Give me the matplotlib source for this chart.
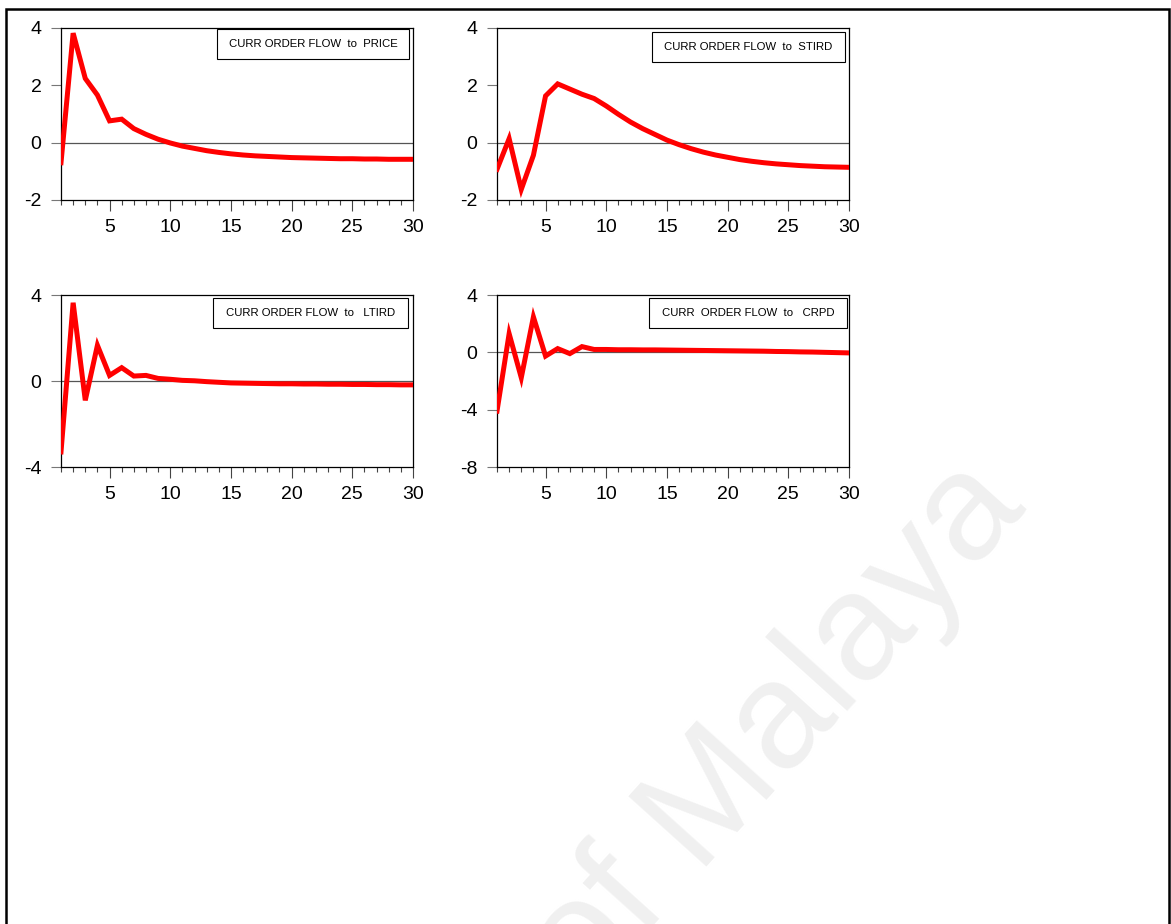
import matplotlib.pyplot as plt
from matplotlib.patches import Rectangle
from matplotlib.ticker import MultipleLocator

plt.rcParams['font.family'] = ['Liberation Sans', 'DejaVu Sans']

# impulse responses, periods 1..30
periods = list(range(1, 31))

price = [-0.70, 3.82, 2.24, 1.66, 0.76, 0.82, 0.49, 0.29, 0.12, -0.01,
         -0.12, -0.20, -0.28, -0.34, -0.39, -0.43, -0.46, -0.48, -0.50, -0.52,
         -0.53, -0.54, -0.55, -0.56, -0.56, -0.57, -0.57, -0.58, -0.58, -0.58]

stird = [-0.93, 0.14, -1.63, -0.44, 1.63, 2.05, 1.87, 1.69, 1.54, 1.28,
         0.99, 0.72, 0.49, 0.29, 0.09, -0.07, -0.21, -0.33, -0.43, -0.51,
         -0.59, -0.65, -0.70, -0.74, -0.77, -0.80, -0.82, -0.84, -0.85, -0.86]

ltird = [-3.30, 3.64, -0.90, 1.66, 0.26, 0.62, 0.23, 0.26, 0.12, 0.08,
         0.03, 0.01, -0.03, -0.06, -0.09, -0.10, -0.11, -0.12, -0.13, -0.13,
         -0.14, -0.14, -0.15, -0.15, -0.16, -0.16, -0.17, -0.17, -0.18, -0.18]

crpd = [-4.10, 1.30, -1.77, 2.47, -0.26, 0.26, -0.09, 0.40, 0.20, 0.20,
        0.18, 0.18, 0.17, 0.17, 0.16, 0.15, 0.14, 0.13, 0.12, 0.11,
        0.10, 0.09, 0.08, 0.06, 0.05, 0.03, 0.02, 0.00, -0.02, -0.04]

titles = ['CURR ORDER FLOW  to  PRICE', 'CURR ORDER FLOW  to  STIRD',
          'CURR ORDER FLOW  to   LTIRD', 'CURR  ORDER FLOW  to   CRPD']
series = [price, stird, ltird, crpd]
ylims = [(-2, 4), (-2, 4), (-4, 4), (-8, 4)]
ysteps = [2, 2, 4, 4]

fig = plt.figure(figsize=(11.71, 9.24), dpi=100)

# watermark
fig.text(0.500, -0.084, 'of Malaya', fontsize=110, color='#f0f0f0',
         rotation=48, rotation_mode='anchor', ha='left', va='baseline', zorder=0)

# outer frame (bottom edge runs off the page)
fig.patches.append(Rectangle((6 / 1171, -0.05), 1163 / 1171, 1.05 - 9 / 924,
                             transform=fig.transFigure, fill=False,
                             edgecolor='black', linewidth=1.8))

positions = [(61, 28), (497, 28), (61, 295), (497, 295)]
boxes = [(0.443, 0.82, 0.546, 0.175), (0.44, 0.802, 0.549, 0.175),
         (0.432, 0.809, 0.554, 0.174), (0.432, 0.809, 0.562, 0.174)]

for i in range(4):
    x0, y0 = positions[i]
    ax = fig.add_axes([x0 / 1171, 1 - (y0 + 172) / 924, 352 / 1171, 172 / 924])
    ax.plot(periods, series[i], color='#ff0000', linewidth=3.6, solid_joinstyle='miter', zorder=3)
    ax.axhline(0, color='#555555', linewidth=0.9, zorder=2)
    ax.set_xlim(1, 30)
    ax.set_ylim(*ylims[i])
    ax.xaxis.set_major_locator(MultipleLocator(5))
    ax.xaxis.set_minor_locator(MultipleLocator(1))
    ax.yaxis.set_major_locator(MultipleLocator(ysteps[i]))
    ax.tick_params(axis='x', which='major', direction='out', length=8, width=0.8,
                   color='#444444', labelsize=14, pad=6)
    ax.tick_params(axis='x', which='minor', direction='out', length=3.5, width=0.8,
                   color='#444444')
    ax.tick_params(axis='y', which='major', direction='out', length=7, width=0.8,
                   color='#777777', labelsize=14, pad=7)
    ax.set_yticklabels([str(int(v)) for v in ax.get_yticks()])
    for s in ax.spines.values():
        s.set_linewidth(0.9)
    bx, by, bw, bh = boxes[i]
    ax.add_patch(Rectangle((bx, by), bw, bh, transform=ax.transAxes, fill=True,
                           facecolor='white', edgecolor='black', linewidth=0.8, zorder=4))
    ax.text(bx + bw / 2, by + bh / 2, titles[i], transform=ax.transAxes, fontsize=8.2,
            ha='center', va='center', zorder=5)

fig.savefig('out.png', dpi=100)
